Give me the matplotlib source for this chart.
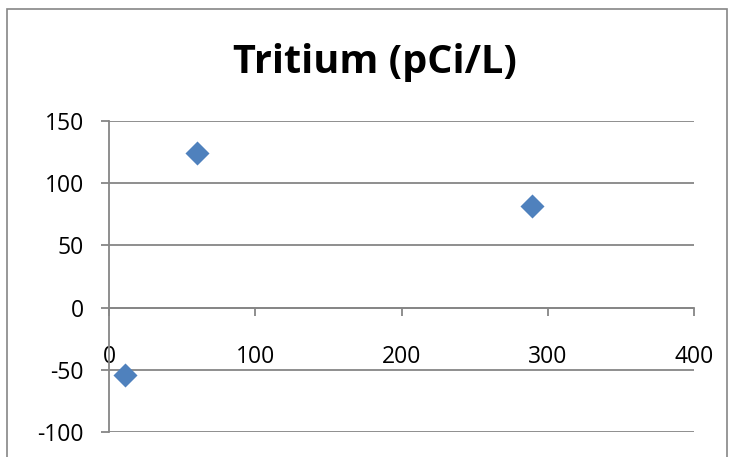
import matplotlib.pyplot as plt
from matplotlib.patches import Rectangle

# data
x_vals = [11, 60, 289]
y_vals = [-54, 124, 82]
x_ticks = [0, 100, 200, 300, 400]
y_ticks = [-100, -50, 0, 50, 100, 150]
title = 'Tritium (pCi/L)'

W, H = 734, 457
plt.rcParams['font.family'] = ['Open Sans', 'DejaVu Sans']
plt.rcParams['axes.unicode_minus'] = False

fig = plt.figure(figsize=(W / 100, H / 100), dpi=100)
# chart border
fig.patches.append(Rectangle((7 / W, -0.1), 720 / W, 1.1 - 9 / H, transform=fig.transFigure,
                             fill=False, edgecolor='#868686', linewidth=1.2))

ax = fig.add_axes([109 / W, 1 - 432 / H, (694 - 109) / W, (432 - 121) / H])
ax.set_xlim(0, 400)
ax.set_ylim(-100, 150)

for yv in y_ticks:
    ax.axhline(yv, color='#868686', linewidth=1.3, zorder=1)

ax.scatter(x_vals, y_vals, marker='D', s=150, color='#4F81BD', zorder=3, linewidths=0)

ax.spines['top'].set_visible(False)
ax.spines['right'].set_visible(False)
ax.spines['bottom'].set_position(('data', 0))
for sp in ['bottom', 'left']:
    ax.spines[sp].set_color('#868686')
    ax.spines[sp].set_linewidth(1.3)

ax.set_xticks(x_ticks)
ax.set_yticks(y_ticks)
ax.tick_params(axis='x', direction='out', length=6, width=1.3, color='#868686', pad=21,
               labelsize=16.5)
ax.tick_params(axis='y', direction='out', length=6, width=1.3, color='#868686', pad=12,
               labelsize=16.5)

fig.text(375 / W, 1 - 63 / H, title, ha='center', va='center', fontsize=28.5, fontweight='bold')

fig.savefig('out.png', dpi=100)
